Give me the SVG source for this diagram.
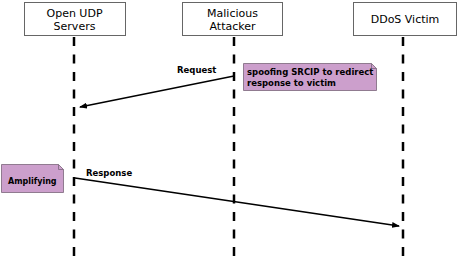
<svg xmlns="http://www.w3.org/2000/svg" width="460" height="261" viewBox="0 0 460 261">
<style>
.box{fill:#fff;stroke:#666;stroke-width:1}
.life{stroke:#000;stroke-width:2.5;stroke-dasharray:9 8.5}
.hdr{font-family:"DejaVu Sans",Verdana,sans-serif;font-size:11px;fill:#000;text-anchor:middle}
.lbl{font-family:"DejaVu Sans",Verdana,sans-serif;font-size:8.5px;font-weight:bold;fill:#000}
.note{fill:#cc9fcc;stroke:#7a667a;stroke-width:0.8}
.msg{stroke:#000;stroke-width:1.3;fill:none}
</style>
<defs>
<marker id="arr" markerWidth="8" markerHeight="6" refX="7" refY="3" orient="auto" markerUnits="userSpaceOnUse">
<path d="M0,0 L8,3 L0,6 Z" fill="#000"/>
</marker>
</defs>
<g id="udp">
<line class="life" x1="74" y1="37" x2="74" y2="258"/>
<rect class="box" x="24.5" y="2.5" width="101" height="33"/>
<text class="hdr" x="74.5" y="17">Open UDP</text>
<text class="hdr" x="74.5" y="30">Servers</text>
</g>
<g id="attacker">
<line class="life" x1="234" y1="37" x2="234" y2="258"/>
<rect class="box" x="182.5" y="2.5" width="100" height="33"/>
<text class="hdr" x="232.5" y="17">Malicious</text>
<text class="hdr" x="232.5" y="30">Attacker</text>
</g>
<g id="victim">
<line class="life" x1="403" y1="37" x2="403" y2="258"/>
<rect class="box" x="353.5" y="2.5" width="103" height="33"/>
<text class="hdr" x="405" y="23">DDoS Victim</text>
</g>
<g id="note-spoof">
<path class="note" d="M243.5,63.5 H371.5 L376.5,68.5 V90.5 H243.5 Z"/>
<path d="M371.5,63.5 V68.5 H376.5" fill="none" stroke="#7a667a" stroke-width="0.8"/>
<text class="lbl" x="247" y="75">spoofing SRCIP to redirect</text>
<text class="lbl" x="247" y="86">response to victim</text>
</g>
<g id="note-amp">
<path class="note" d="M1.5,164.5 H58.5 L63.5,169.5 V192.5 H1.5 Z"/>
<path d="M58.5,164.5 V169.5 H63.5" fill="none" stroke="#7a667a" stroke-width="0.8"/>
<text class="lbl" x="8" y="184" style="font-size:8px">Amplifying</text>
</g>
<g id="connectors">
<line class="msg" x1="234" y1="76" x2="80" y2="107" marker-end="url(#arr)"/>
<text class="lbl" x="177" y="73">Request</text>
<line class="msg" x1="75" y1="178" x2="399" y2="226" marker-end="url(#arr)"/>
<text class="lbl" x="86" y="176">Response</text>
</g>
</svg>
